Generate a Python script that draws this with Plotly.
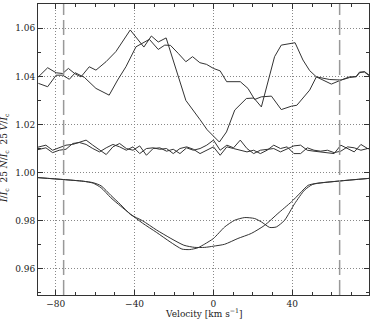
import plotly.graph_objects as go

# Stokes V profiles (scaled x25, shifted to ~1.04)
v1_vel = [-88.8, -84.1, -79.8, -76.5, -73.6, -70.1, -67.2, -63.0, -59.6, -54.5, -49.5, -42.2,
          -35.3, -31.5, -28.0, -24.0, -14.0, -10.4, -6.8, -3.2, 3.0, 6.6, 10.8, 16.7, 20.5,
          24.3, 27.7, 31.0, 34.4, 41.4, 45.4, 48.8, 52.2, 59.0, 64.8, 69.0, 72.4, 74.1, 76.6, 79.0]
v1_val = [1.0398, 1.0436, 1.0415, 1.0412, 1.0433, 1.0410, 1.0398, 1.0440, 1.0426, 1.0461, 1.0503, 1.0593,
          1.0522, 1.0568, 1.0543, 1.0560, 1.0300, 1.0262, 1.0220, 1.0178, 1.0127, 1.0169, 1.0260, 1.0308, 1.0310,
          1.0273, 1.0385, 1.0482, 1.0530, 1.0540, 1.0468, 1.0424, 1.0398, 1.0387, 1.0385, 1.0398, 1.0398, 1.0415, 1.0420, 1.0405]

v2_vel = [-88.8, -84.1, -79.8, -76.5, -73.1, -70.1, -65.5, -59.6, -52.9, -48.6, -44.4, -39.3,
          -32.5, -28.0, -24.7, -21.8, -17.9, -14.0, -10.6, -6.9, -3.5, 0.0, 3.4, 6.7, 13.6,
          17.5, 20.9, 24.3, 29.4, 34.4, 39.5, 42.3, 48.8, 52.2, 59.8, 64.8, 69.0, 72.4, 74.1, 76.6, 79.0]
v2_val = [1.0371, 1.0357, 1.0405, 1.0405, 1.0388, 1.0415, 1.0396, 1.0350, 1.0322, 1.0385, 1.0440, 1.0523,
          1.0554, 1.0512, 1.0530, 1.0529, 1.0496, 1.0461, 1.0482, 1.0457, 1.0450, 1.0433, 1.0423, 1.0378, 1.0378,
          1.0350, 1.0304, 1.0315, 1.0318, 1.0262, 1.0276, 1.0280, 1.0343, 1.0398, 1.0368, 1.0385, 1.0395, 1.0400,
          1.0418, 1.0418, 1.0403]

# Null profiles (scaled x25, shifted to ~1.01)
n_vel = [-91.8, -88.4, -85.0, -81.6, -78.2, -74.8, -71.4, -68.0, -64.6, -61.2, -57.8, -54.4, -51.0,
         -47.6, -44.2, -40.8, -37.4, -34.0, -30.6, -27.2, -23.8, -20.4, -17.0, -13.6, -10.2, -6.8,
         -3.4, 0.0, 3.4, 6.8, 10.2, 13.6, 17.0, 20.4, 23.8, 27.2, 30.6, 34.0, 37.4, 40.8, 44.2,
         47.6, 51.0, 54.4, 57.8, 61.2, 64.6, 68.0, 71.4, 74.8, 78.2, 81.6]
n1_val = [1.0100, 1.0107, 1.0114, 1.0093, 1.0103, 1.0114, 1.0117, 1.0125, 1.0135, 1.0114, 1.0093, 1.0075,
          1.0107, 1.0121, 1.0100, 1.0093, 1.0111, 1.0072, 1.0100, 1.0103, 1.0089, 1.0097, 1.0079, 1.0103,
          1.0093, 1.0100, 1.0114, 1.0135, 1.0093, 1.0114, 1.0103, 1.0135, 1.0100, 1.0079, 1.0093, 1.0097,
          1.0100, 1.0086, 1.0100, 1.0111, 1.0114, 1.0093, 1.0089, 1.0086, 1.0083, 1.0079, 1.0114, 1.0100,
          1.0086, 1.0117, 1.0100, 1.0095]
n2_val = [1.0090, 1.0097, 1.0103, 1.0083, 1.0093, 1.0097, 1.0121, 1.0125, 1.0117, 1.0100, 1.0086, 1.0103,
          1.0117, 1.0107, 1.0093, 1.0107, 1.0079, 1.0100, 1.0103, 1.0097, 1.0100, 1.0079, 1.0100, 1.0107,
          1.0097, 1.0079, 1.0093, 1.0107, 1.0072, 1.0107, 1.0100, 1.0093, 1.0086, 1.0093, 1.0079, 1.0093,
          1.0114, 1.0100, 1.0107, 1.0079, 1.0079, 1.0103, 1.0093, 1.0089, 1.0093, 1.0083, 1.0089, 1.0107,
          1.0103, 1.0093, 1.0100, 1.0100]

# Stokes I profiles
ip_vel = [-89, -76, -66, -61, -57, -52, -47, -42, -36, -29, -22, -15, -9.5, -4.4, 0, 5.7, 12.4,
          19.2, 26, 32.7, 39.5, 44, 48, 52, 64, 79]
ip_val = [0.9979, 0.9971, 0.9964, 0.9958, 0.9945, 0.9905, 0.9866, 0.9825, 0.9800, 0.9762, 0.9728,
          0.9698, 0.9689, 0.9689, 0.9694, 0.9702, 0.9726, 0.9747, 0.9781, 0.9830, 0.9878, 0.9915,
          0.9947, 0.9955, 0.9965, 0.9976]
iq_vel = [-89, -76, -66, -61, -57, -52, -47, -42, -36, -29, -22, -16, -12, -8, -4.4, 0, 5.7, 10.8,
          15.9, 20.9, 24.3, 28.5, 31.9, 36.1, 41.2, 46.2, 50.4, 64, 79]
iq_val = [0.9979, 0.9971, 0.9964, 0.9956, 0.9937, 0.9895, 0.9860, 0.9827, 0.9790, 0.9752, 0.9712,
          0.9682, 0.9680, 0.9687, 0.9703, 0.9726, 0.9774, 0.9802, 0.9813, 0.9809, 0.9795, 0.9772,
          0.9774, 0.9802, 0.9871, 0.9927, 0.9951, 0.9965, 0.9976]

# integration limits
v_limits = [-76, 64]

FONT = "DejaVu Serif"
LINE = dict(color="#333333", width=1)

fig = go.Figure()
for xs, ys in [(v1_vel, v1_val), (v2_vel, v2_val), (n_vel, n1_val), (n_vel, n2_val)]:
    fig.add_trace(go.Scatter(x=xs, y=ys, mode="lines", line=LINE, showlegend=False))
for xs, ys in [(ip_vel, ip_val), (iq_vel, iq_val)]:
    fig.add_trace(go.Scatter(x=xs, y=ys, mode="lines", line=dict(LINE, shape="spline", smoothing=0.6),
                             showlegend=False))

for v in v_limits:
    fig.add_shape(type="line", x0=v, x1=v, xref="x", yref="paper", y0=0, y1=1,
                  line=dict(color="#999999", width=1.5, dash="15px,5px"))

axis_common = dict(
    ticks="inside", ticklen=5, tickcolor="#333333", showline=True, linecolor="#333333",
    linewidth=1, mirror="ticks", showgrid=True, gridcolor="#888888", griddash="1px,2px",
    gridwidth=1, zeroline=False, tickfont=dict(family=FONT, size=9, color="#222222"),
)
fig.update_xaxes(range=[-89, 78.9], tick0=0, dtick=40,
                 minor=dict(dtick=10, ticks="inside", ticklen=3, tickcolor="#333333", showgrid=False),
                 **axis_common)
fig.update_yaxes(range=[0.9491, 1.0701], tick0=0, dtick=0.02, tickformat=".2f",
                 minor=dict(dtick=0.01, ticks="inside", ticklen=3, tickcolor="#333333", showgrid=False),
                 **axis_common)

fig.add_annotation(text="Velocity [km s<sup>−1</sup>]", xref="paper", yref="paper", x=0.5, y=-0.062,
                   xanchor="center", yanchor="middle", showarrow=False,
                   font=dict(family=FONT, size=9, color="#222222"))
fig.add_annotation(text="<i>I</i>/<i>I</i><sub>c</sub>\u00a0\u00a025\u00a0<i>N</i>/<i>I</i><sub>c</sub>"
                        "\u00a0\u00a025\u00a0<i>V</i>/<i>I</i><sub>c</sub>",
                   xref="paper", yref="paper", x=-0.0997, y=0.471, textangle=-90,
                   xanchor="center", yanchor="middle", showarrow=False,
                   font=dict(family=FONT, size=9, color="#222222"))

fig.update_layout(width=374, height=320, margin=dict(l=38, r=5, t=4, b=25),
                  plot_bgcolor="white", paper_bgcolor="white")

# drop the browser's default page margin so the figure sits at the top-left corner
fig.write_html("out.html", config={"displayModeBar": False},
               post_script="document.body.style.margin = '0px';")
